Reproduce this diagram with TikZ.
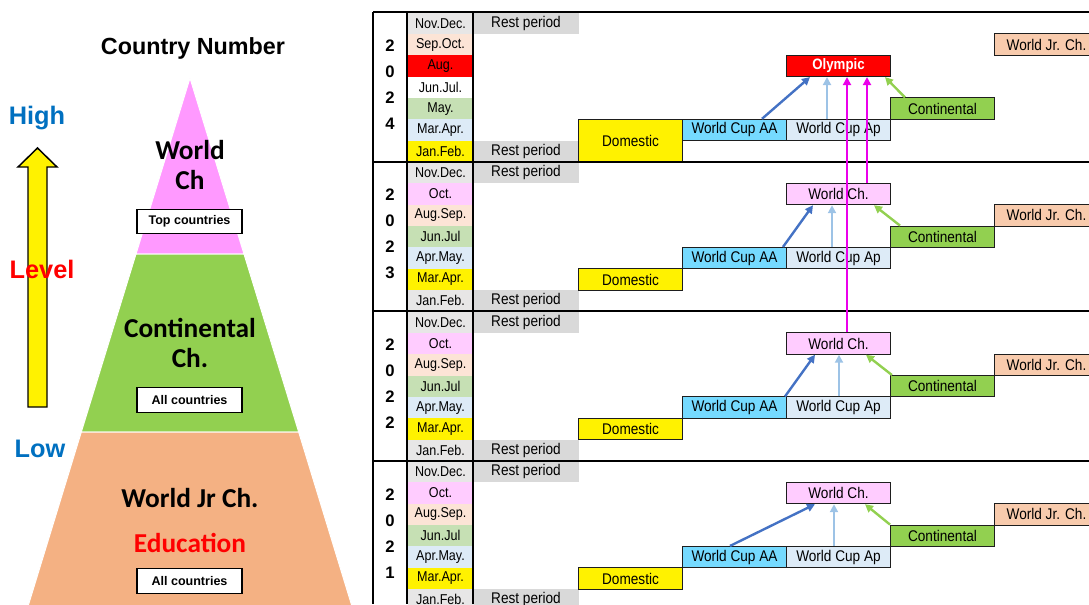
\documentclass[tikz,border=0pt]{standalone}
\usepackage{fontspec}
\setmainfont{Liberation Sans}
\newfontfamily\tblfont[FakeStretch=0.88]{Liberation Sans}
\newfontfamily\calfont{Carlito}
\usetikzlibrary{arrows.meta}

\definecolor{mgray}{RGB}{231,230,230}
\definecolor{mpeach}{RGB}{252,228,214}
\definecolor{mgreen}{RGB}{198,224,180}
\definecolor{mblue}{RGB}{221,235,247}
\definecolor{mpink}{RGB}{255,204,255}
\definecolor{restgray}{RGB}{217,217,217}
\definecolor{cupaa}{RGB}{117,218,255}
\definecolor{contgreen}{RGB}{146,208,80}
\definecolor{jrpeach}{RGB}{248,203,173}
\definecolor{arrblue}{RGB}{68,114,196}
\definecolor{arrlight}{RGB}{157,195,230}
\definecolor{arrmag}{RGB}{235,0,235}
\definecolor{pyrpink}{RGB}{255,153,255}
\definecolor{pyrorange}{RGB}{244,177,131}
\definecolor{lvlblue}{RGB}{0,112,192}

\tikzset{every picture/.style={line width=0.75pt},
  mon/.style={anchor=north west, inner sep=0pt, minimum width=49.5pt, minimum height=16.02pt, font=\tblfont\fontsize{10.7}{12}\selectfont},
  rest/.style={anchor=north west, inner sep=0pt, fill=restgray, minimum width=78.75pt, minimum height=16.02pt, font=\tblfont\fontsize{11.6}{13}\selectfont},
  evbox/.style={anchor=north west, draw={rgb,255:red,30;green,30;blue,30}, inner sep=0pt, minimum width=78pt, minimum height=16.02pt, font=\tblfont\fontsize{11.6}{13}\selectfont},
  yr/.style={align=center, inner sep=0pt, font=\bfseries\fontsize{12.5}{19.6}\selectfont},
  pyrtxt/.style={align=center, inner sep=0pt, font=\calfont\bfseries\fontsize{20.5}{22.5}\selectfont},
  tagbox/.style={draw, fill=white, line width=0.9pt, inner sep=0pt, minimum width=78.75pt, minimum height=18.5pt, font=\bfseries\fontsize{9.4}{11}\selectfont},
  lvl/.style={inner sep=0pt, font=\bfseries\fontsize{19}{21}\selectfont},
  feed/.style={-{Triangle[length=6pt,width=6pt]}, line width=1.8pt},
  grid/.style={line width=1.5pt}
}

\begin{document}
\begin{tikzpicture}[x=0.75pt,y=0.75pt,yscale=-1,xscale=1]
\useasboundingbox (0,0) rectangle (1089,604);
\clip (0,0) rectangle (1089,604);

%Shape: Pyramid top
\draw [draw=white, fill=pyrpink] (190,78) -- (244,254) -- (136,254) -- cycle ;
%Shape: Pyramid middle
\draw [draw=white, fill=contgreen] (136,254) -- (244,254) -- (298.7,432) -- (81.3,432) -- cycle ;
%Shape: Pyramid bottom
\draw [draw=white, fill=pyrorange] (81.3,432) -- (298.7,432) -- (352.5,608) -- (27.5,608) -- cycle ;
%Shape: Up Arrow
\draw [fill=yellow, line width=1.1pt] (28,407) -- (28,167) -- (18,167) -- (37.5,148) -- (57,167) -- (47,167) -- (47,407) -- cycle ;

% Text Node
\node [font=\bfseries\fontsize{17.5}{20}\selectfont, inner sep=0pt] (title) at (193,48) {Country Number};
\node [lvl, text=lvlblue] (high) at (37,118) {High};
\node [lvl, text=red] (level) at (42,269) {Level};
\node [lvl, text=lvlblue] (low) at (40,449) {Low};
\node [pyrtxt] (worldch) at (190,165) {World\\Ch};
\node [tagbox] (topc) at (189.5,221.5) {Top countries};
\node [pyrtxt] (contch) at (190,343) {Continental\\Ch.};
\node [tagbox] (allc1) at (189.5,400) {All countries};
\node [pyrtxt] (wjrch) at (190,498) {World Jr Ch.};
\node [pyrtxt, text=red] (edu) at (190,543) {Education};
\node [tagbox] (allc2) at (189.5,581) {All countries};

%Month cells 2024
\node [mon, fill=mgray] (m24a) at (407,12) {Nov.Dec.};
\node [mon, fill=mpeach] (m24b) at (407,33.36) {Sep.Oct.};
\node [mon, fill=red] (m24c) at (407,54.72) {Aug.};
\node [mon, fill=white] (m24d) at (407,76.08) {Jun.Jul.};
\node [mon, fill=mgreen] (m24e) at (407,97.44) {May.};
\node [mon, fill=mblue] (m24f) at (407,118.8) {Mar.Apr.};
\node [mon, fill=yellow] (m24g) at (407,140.16) {Jan.Feb.};
%Month cells 2023
\node [mon, fill=mgray] (m23a) at (407,161.5) {Nov.Dec.};
\node [mon, fill=mpink] (m23b) at (407,182.86) {Oct.};
\node [mon, fill=mpeach] (m23c) at (407,204.22) {Aug.Sep.};
\node [mon, fill=mgreen] (m23d) at (407,225.58) {Jun.Jul};
\node [mon, fill=mblue] (m23e) at (407,246.94) {Apr.May.};
\node [mon, fill=yellow] (m23f) at (407,268.3) {Mar.Apr.};
\node [mon, fill=mgray] (m23g) at (407,289.66) {Jan.Feb.};
%Month cells 2022
\node [mon, fill=mgray] (m22a) at (407,311) {Nov.Dec.};
\node [mon, fill=mpink] (m22b) at (407,332.36) {Oct.};
\node [mon, fill=mpeach] (m22c) at (407,353.72) {Aug.Sep.};
\node [mon, fill=mgreen] (m22d) at (407,375.08) {Jun.Jul};
\node [mon, fill=mblue] (m22e) at (407,396.44) {Apr.May.};
\node [mon, fill=yellow] (m22f) at (407,417.8) {Mar.Apr.};
\node [mon, fill=mgray] (m22g) at (407,439.16) {Jan.Feb.};
%Month cells 2021
\node [mon, fill=mgray] (m21a) at (407,460.5) {Nov.Dec.};
\node [mon, fill=mpink] (m21b) at (407,481.86) {Oct.};
\node [mon, fill=mpeach] (m21c) at (407,503.22) {Aug.Sep.};
\node [mon, fill=mgreen] (m21d) at (407,524.58) {Jun.Jul};
\node [mon, fill=mblue] (m21e) at (407,545.94) {Apr.May.};
\node [mon, fill=yellow] (m21f) at (407,567.3) {Mar.Apr.};
\node [mon, fill=mgray] (m21g) at (407,588.66) {Jan.Feb.};

%Rest periods
\node [rest] (r24a) at (473,12) {Rest period};
\node [rest] (r24b) at (473,140.16) {Rest period};
\node [rest] (r23a) at (473,161.5) {Rest period};
\node [rest] (r23b) at (473,289.66) {Rest period};
\node [rest] (r22a) at (473,311) {Rest period};
\node [rest] (r22b) at (473,439.16) {Rest period};
\node [rest] (r21a) at (473,460.5) {Rest period};
\node [rest] (r21b) at (473,588.66) {Rest period};

%Years
\node [yr] (y24) at (390,84.5) {2\\0\\2\\4};
\node [yr] (y23) at (390,234) {2\\0\\2\\3};
\node [yr] (y22) at (390,383.5) {2\\0\\2\\2};
\node [yr] (y21) at (390,533.5) {2\\0\\2\\1};

%Events 2024
\node [evbox, fill=yellow, minimum height=32.04pt] (dom24) at (578,118.8) {Domestic};
\node [evbox, fill=cupaa] (wcaa24) at (682,118.8) {World Cup AA};
\node [evbox, fill=mblue] (wcap24) at (786,118.8) {World Cup Ap};
\node [evbox, fill=contgreen] (cont24) at (890,97.44) {Continental};
\node [evbox, fill=red, text=white, font=\tblfont\bfseries\fontsize{11.3}{13}\selectfont] (oly24) at (786,54.72) {Olympic};
\node [evbox, fill=jrpeach] (wjr24) at (994,33.36) {World Jr. Ch.};
%Events 2023
\node [evbox, fill=yellow] (dom23) at (578,268.3) {Domestic};
\node [evbox, fill=cupaa] (wcaa23) at (682,246.94) {World Cup AA};
\node [evbox, fill=mblue] (wcap23) at (786,246.94) {World Cup Ap};
\node [evbox, fill=contgreen] (cont23) at (890,225.58) {Continental};
\node [evbox, fill=mpink] (wch23) at (786,182.86) {World Ch.};
\node [evbox, fill=jrpeach] (wjr23) at (994,204.22) {World Jr. Ch.};
%Events 2022
\node [evbox, fill=yellow] (dom22) at (578,417.8) {Domestic};
\node [evbox, fill=cupaa] (wcaa22) at (682,396.44) {World Cup AA};
\node [evbox, fill=mblue] (wcap22) at (786,396.44) {World Cup Ap};
\node [evbox, fill=contgreen] (cont22) at (890,375.08) {Continental};
\node [evbox, fill=mpink] (wch22) at (786,332.36) {World Ch.};
\node [evbox, fill=jrpeach] (wjr22) at (994,353.72) {World Jr. Ch.};
%Events 2021
\node [evbox, fill=yellow] (dom21) at (578,567.3) {Domestic};
\node [evbox, fill=cupaa] (wcaa21) at (682,545.94) {World Cup AA};
\node [evbox, fill=mblue] (wcap21) at (786,545.94) {World Cup Ap};
\node [evbox, fill=contgreen] (cont21) at (890,524.58) {Continental};
\node [evbox, fill=mpink] (wch21) at (786,481.86) {World Ch.};
\node [evbox, fill=jrpeach] (wjr21) at (994,503.22) {World Jr. Ch.};

%Straight Lines
\draw [grid] (373,12) -- (1089,12) ;
\draw [grid] (373,161.5) -- (1089,161.5) ;
\draw [grid] (373,311) -- (1089,311) ;
\draw [grid] (373,460.5) -- (1089,460.5) ;
\draw [grid] (373,12) -- (373,604) ;
\draw [line width=1pt] (407,12) -- (407,604) ;
\draw [line width=1pt] (473,12) -- (473,604) ;

%Arrows 2024
\draw [feed, arrblue] (762,0 |- wcaa24.north) -- (810,0 |- oly24.south) ;
\draw [feed, arrlight] (827,0 |- wcap24.north) -- (827,0 |- oly24.south) ;
\draw [feed, contgreen] (905,0 |- cont24.north) -- (885,0 |- oly24.south) ;
%Arrows 2023
\draw [feed, arrblue] (783,0 |- wcaa23.north) -- (813,0 |- wch23.south) ;
\draw [feed, arrlight] (832,0 |- wcap23.north) -- (832,0 |- wch23.south) ;
\draw [feed, contgreen] (900,0 |- cont23.north) -- (874,0 |- wch23.south) ;
%Arrows 2022
\draw [feed, arrblue] (785,0 |- wcaa22.north) -- (815,0 |- wch22.south) ;
\draw [feed, arrlight] (839,0 |- wcap22.north) -- (839,0 |- wch22.south) ;
\draw [feed, contgreen] (892,0 |- cont22.north) -- (866,0 |- wch22.south) ;
%Arrows 2021
\draw [feed, arrblue] (730,0 |- wcaa21.north) -- (815,0 |- wch21.south) ;
\draw [feed, arrlight] (834,0 |- wcap21.north) -- (834,0 |- wch21.south) ;
\draw [feed, contgreen] (890,0 |- cont21.north) -- (865,0 |- wch21.south) ;
%Qualification to Olympic
\draw [feed, arrmag, line width=1.5pt] (867,0 |- wch23.north) -- (867,0 |- oly24.south) ;
\draw [feed, arrmag, line width=1.5pt] (847,0 |- wch22.north) -- (847,0 |- oly24.south) ;

\end{tikzpicture}
\end{document}
